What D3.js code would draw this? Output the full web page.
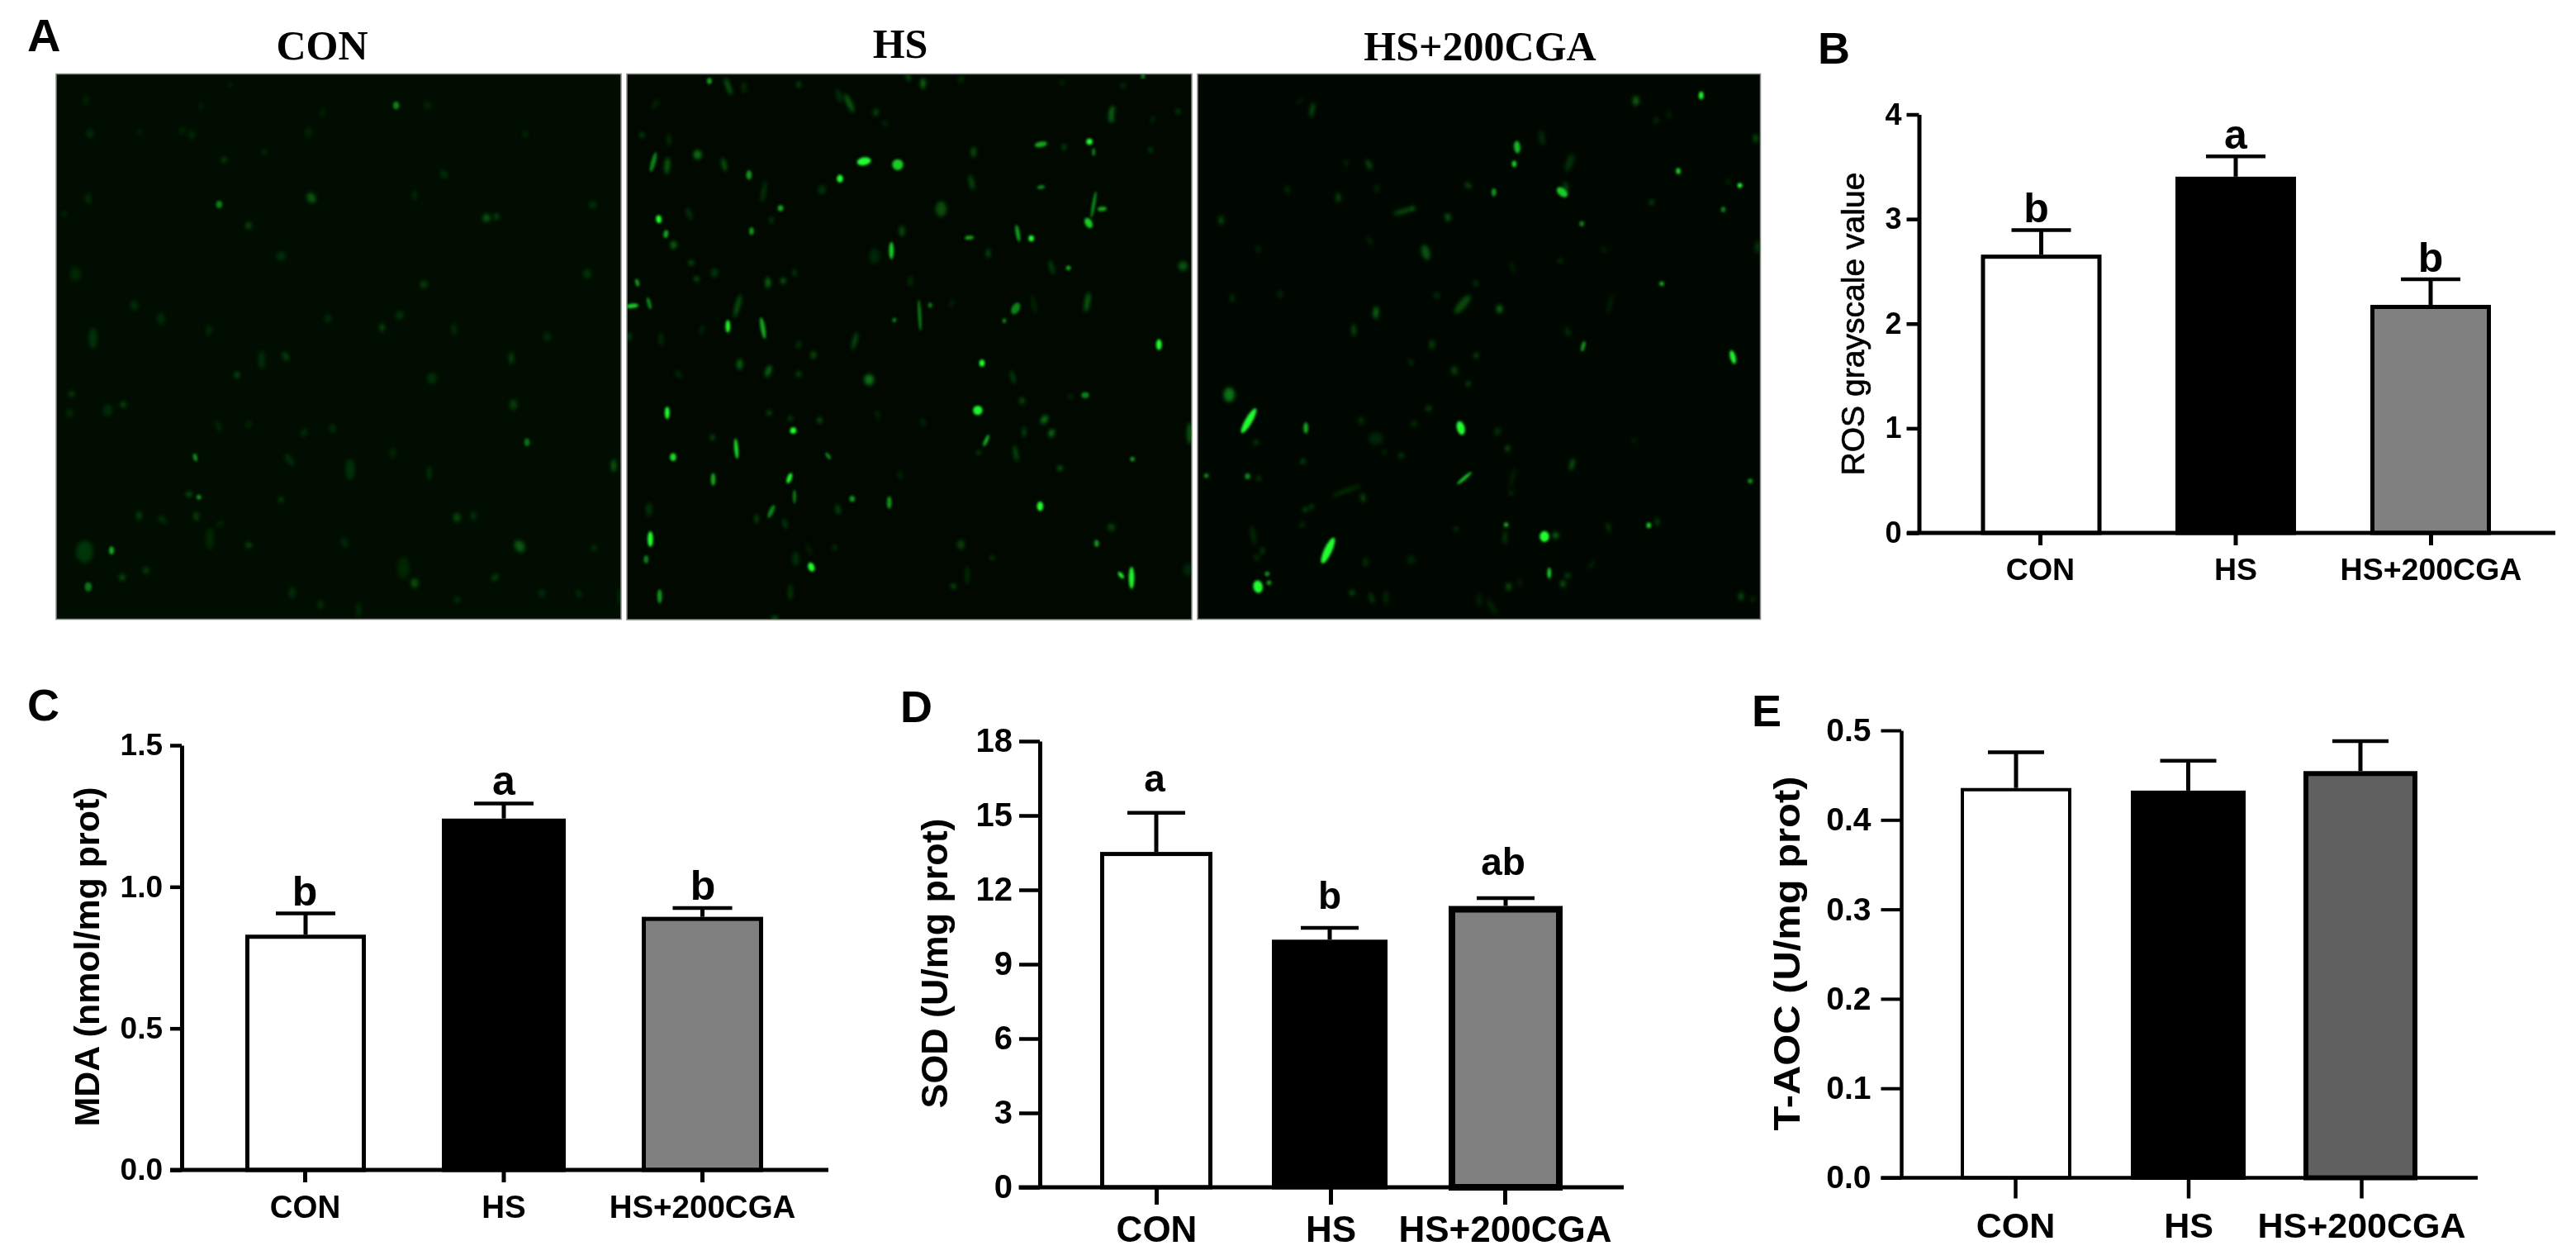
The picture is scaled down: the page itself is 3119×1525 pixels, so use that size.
<!DOCTYPE html>
<html><head><meta charset="utf-8">
<script src="https://cdn.jsdelivr.net/npm/d3@7"></script>
<style>html,body{margin:0;padding:0;background:#fff}svg{display:block}</style>
</head><body><svg id="c" width="3119" height="1525"></svg>
<script>
// ---------- data ----------
const categories = ["CON","HS","HS+200CGA"];
const rosValues = [2.66,3.405,2.18];
const rosErrors = [2.895,3.60,2.424];
const rosLetters = ["b","a","b"];
const rosTicks = [0,1,2,3,4];
const mdaValues = [0.831,1.241,0.894];
const mdaErrors = [0.906,1.294,0.925];
const mdaLetters = ["b","a","b"];
const mdaTicks = [0,0.5,1.0,1.5];
const sodValues = [13.53,9.99,11.35];
const sodErrors = [15.11,10.47,11.67];
const sodLetters = ["a","b","ab"];
const sodTicks = [0,3,6,9,12,15,18];
const aocValues = [0.4356,0.4327,0.4545];
const aocErrors = [0.4756,0.466,0.488];
const aocLetters = ["","",""];
const aocTicks = [0,0.1,0.2,0.3,0.4,0.5];
const micrographTitles = ["CON","HS","HS+200CGA"];
// fluorescent spots: [x, y, half-length, half-width, tilt deg, intensity]
const spotsCon = [[940,110,5,4,0,.55],[460,386,4.5,4,0,.55],[710,368,7,5,-30,.4],[1185,424,5,5,0,.4],[1212,420,4,3,0,.35],[395,1092,5,2.5,-15,.6],[378,1195,4,3,60,.4],[405,1203,3,3,0,.6],[168,1352,5,3,0,.7],[105,1453,6,4.5,0,.5],[1295,1050,5,3.5,0,.5],[1530,1115,8,3,0,.45],[1275,1340,8,6,-30,.4],[990,1443,6,5,0,.35],[1030,1135,9,2,0,.3],[1252,815,8,3,0,.3],[1258,945,7,5,0,.25],[1105,1260,6,5,0,.3],[902,730,5,3,0,.35],[508,862,4,3,0,.4],[540,445,5,4,0,.3],[640,810,6,4,-30,.28],[1037,872,7,6,0,.2],[118,760,13,5,0,.22],[95,1355,14,11,0,.22],[815,1125,13,6,0,.2],[575,820,12,4,0,.2],[1015,610,5,5,0,.25],[1458,580,6,5,0,.22],[1473,388,5,5,0,.2],[628,530,6,6,0,.2],[473,262,4,4,0,.25],[583,240,3,3,0,.22],[200,945,4,4,0,.3],[60,915,4,4,0,.25],[243,1255,6,3.5,0,.28],[305,1265,6,3.5,-40,.22],[398,1257,6,4,0,.25],[628,1210,3,2.5,0,.4],[540,1337,4,4,0,.3],[197,1427,4,4,0,.35],[262,1408,5,4,0,.25],[1208,1427,6,3,40,.3],[1435,1472,5,3,-30,.2],[1335,1472,5,4,0,.2],[658,1470,7,4,0,.2],[735,1503,6,4,0,.2],[838,1518,10,2,0,.25],[1105,1490,4,4,0,.2],[1548,1480,12,2,0,.25],[1477,1345,4,4,0,.2],[1290,190,3,3,0,.22],[1070,302,6,4,-30,.2],[990,360,6,3,0,.18],[1025,110,5,5,0,.12],[230,668,6,5,0,.18],[302,705,8,5,0,.16],[432,737,7,4,0,.16],[1097,735,8,3,0,.18],[950,695,6,5,30,.2],[755,705,5,5,0,.16],[1350,755,6,5,0,.15],[110,188,6,5,0,.15],[385,192,6,4,0,.15],[360,180,5,4,0,.12],[70,580,9,7,0,.14],[158,960,8,6,0,.16],[55,968,5,5,0,.16],[458,1005,8,3,-25,.16],[540,1000,5,4,0,.12],[690,1022,6,4,30,.17],[768,1012,6,4,-30,.17],[650,1098,9,4,-35,.18],[930,1080,7,4,0,.14],[1150,1255,6,4,0,.2],[960,1400,14,8,0,.12],[800,1330,7,4,-20,.15],[435,1320,14,5,0,.14],[462,1277,6,3,60,.14],[40,412,3,3,0,.18],[105,370,7,4,0,.15],[740,130,6,3,0,.1],[702,185,7,4,0,.12],[410,112,4,3,0,.12],[490,50,3,3,0,.12],[100,95,6,4,0,.1],[245,182,3,3,0,.15]];
const spotsHs = [[233,85,4,3,0,.6],[278,100,12,2.5,-20,.4],[315,102,8,2,0,.25],[445,95,4,3,0,.3],[740,92,3,7,90,.45],[705,75,5,2,-20,.4],[830,80,6,2,30,.25],[565,145,13,3,-25,.4],[540,125,9,3,-15,.2],[628,170,5,3,15,.3],[650,200,5,2,-50,.2],[105,148,8,2,30,.2],[73,232,3,3,0,.35],[137,245,8,2,0,.25],[100,305,13,3,15,.5],[133,315,11,3,5,.4],[205,285,6,5,0,.45],[268,312,9,2.5,-15,.4],[327,340,6,3.5,0,.55],[362,385,14,2,10,.3],[543,350,5,4,0,.85],[600,303,9,5,80,.85],[680,312,7,7,0,.7],[500,380,6,5,0,.2],[860,278,7,3,0,.35],[855,360,10,3,-15,.3],[1020,257,8,3.5,80,.6],[1075,265,4,2,0,.4],[1135,250,4,4,0,.85],[1145,278,5,2,0,.5],[1187,180,9,3,0,.45],[1190,160,3,3,0,.4],[1345,167,3,3,0,.3],[1285,190,5,2,0,.2],[1262,72,3,2.5,0,.5],[1215,98,3,3,0,.25],[1070,90,3,3,0,.2],[1280,272,3,2,0,.4],[1020,373,5,2.5,80,.5],[1145,420,17,2,10,.55],[1165,432,6,3,85,.6],[1133,470,7,4.5,-30,.7],[113,460,5,3.5,-10,.9],[130,500,5,3,10,.6],[148,530,5,4,0,.4],[402,430,4,3.5,0,.6],[380,462,4,2,0,.35],[333,492,5,3,0,.55],[185,445,9,3,-20,.2],[783,432,10,7,0,.3],[965,498,11,2.5,-10,.6],[997,512,4,3.5,0,.85],[850,510,6,2.5,85,.6],[690,492,7,3,0,.35],[665,545,11,3,0,.7],[895,552,6,2,0,.4],[190,578,3,3,0,.4],[203,622,3,3,0,.4],[245,605,6,5,0,.2],[372,632,7,3,0,.45],[408,627,4,3,0,.4],[435,605,4,2,0,.35],[1085,592,3,3,0,.6],[1045,590,10,2,-15,.35],[1357,587,6,6,0,.35],[625,560,10,7,0,.12],[62,632,5,2.5,-15,.55],[90,688,8,2.5,-15,.5],[50,695,8,3,85,.7],[710,628,7,2,10,.25],[300,695,15,2.5,15,.4],[277,750,8,3,0,.8],[360,755,14,3,-10,.6],[215,760,7,1.5,20,.25],[732,720,20,2,-3,.5],[757,693,3,2.5,0,.5],[808,687,5,1.5,20,.25],[672,733,3,2.5,0,.5],[960,702,8,5,30,.5],[933,735,3,2.5,0,.5],[1003,690,12,1.5,-10,.25],[1130,685,13,3,10,.4],[578,790,12,2.5,15,.35],[445,800,5,2,20,.3],[480,828,5,3.5,0,.3],[118,785,9,2.5,0,.2],[42,778,5,2,0,.4],[1300,800,7,3.5,0,.85],[880,850,3.5,4.5,90,.85],[305,853,7,3.5,0,.4],[373,872,8,3,20,.45],[445,880,4,4,0,.25],[612,895,7,6,0,.45],[160,880,6,2.5,-50,.2],[953,888,9,2,-15,.35],[1125,937,4,5,0,.5],[1090,940,2.5,2.5,0,.25],[975,952,5,4,0,.25],[133,985,8,3,0,.85],[870,978,6,6,0,.8],[375,985,4,3,0,.3],[1028,1003,6,4,30,.45],[1373,1040,14,3,0,.4],[432,1033,4,4,0,.9],[495,1005,4,3,0,.35],[425,1000,3,3,0,.3],[632,990,6,2,0,.2],[740,1010,6,3,-20,.15],[240,1052,4,3,0,.3],[297,1082,13,2.5,-5,.75],[147,1105,5,4,0,.75],[980,1037,7,2,0,.35],[1045,1040,5,3.5,20,.45],[890,1060,8,2.5,25,.6],[872,1093,2.5,2.5,0,.4],[960,1095,11,2,-10,.4],[515,1102,5,2,-35,.55],[1237,1110,3,3,0,.55],[1065,1135,3,3,0,.45],[242,1165,8,3,0,.6],[423,1162,7,3,20,.8],[685,1153,7,2,-10,.2],[435,1212,9,2,0,.5],[572,1218,4,3.5,0,.55],[660,1228,8,3,0,.55],[538,1247,7,2,-10,.4],[1018,1238,6,4,0,.9],[380,1252,9,3,25,.5],[345,1272,6,2.5,0,.3],[412,1285,7,1.5,-15,.4],[90,1247,9,4,0,.2],[1187,1295,5,5,0,.25],[93,1327,10,3.5,0,.85],[83,1382,5,3,0,.5],[1152,1339,3,4.5,85,.55],[830,1342,6,5,0,.25],[905,1378,3,2.5,0,.3],[475,1403,4,6,70,.85],[438,1380,9,4,0,.2],[470,1355,8,1.5,-20,.2],[1210,1425,5,2.5,-40,.8],[1235,1432,14,3.5,0,.8],[845,1425,12,1.5,0,.3],[812,1455,3,3,0,.4],[115,1482,9,3,0,.55],[425,1472,11,2,0,.3],[1370,1410,8,7,0,.12],[530,1350,4,3,0,.2],[388,1543,4,3,80,.4]];
const spotsCga = [[1377,82,5,3,0,.8],[1200,97,4,6,90,.4],[322,122,10,2.5,10,.35],[290,97,6,1.5,55,.15],[878,226,4,8,85,.65],[870,273,4,3,0,.7],[945,200,10,3,-10,.2],[1020,270,12,4,20,.2],[1000,352,8,5,-50,.7],[1010,340,8,2,-10,.4],[815,352,5,3,0,.55],[745,333,5,3,-50,.3],[1315,293,3,4,85,.7],[1482,333,3,3,0,.95],[1437,400,3.5,3,0,.5],[1450,322,2.5,2.5,0,.25],[1525,202,5,2.5,0,.4],[1243,380,3,3,0,.35],[1053,440,3.5,3,0,.5],[1255,152,4,2.5,0,.2],[1290,135,6,2,0,.15],[476,275,7,3,-25,.3],[415,270,2,4,85,.2],[393,367,6,3,0,.3],[497,342,6,2,0,.2],[570,405,14,2.5,75,.35],[595,397,3,3,0,.35],[690,422,5,3,-15,.4],[75,430,6,3,0,.3],[255,345,5,2,0,.25],[630,520,10,5,-15,.35],[478,488,6,2,-30,.2],[175,512,4,3,0,.15],[995,543,3,2,0,.3],[1112,513,4,1.5,-40,.25],[1270,607,3,3,0,.6],[1530,505,8,3,0,.25],[865,562,8,1.5,-20,.2],[765,606,2,3.5,85,.35],[730,665,15,5,40,.3],[830,678,5,3.5,0,.45],[660,640,3.5,4,0,.2],[495,688,8,3,5,.45],[105,648,3,5,90,.2],[235,637,5,3,0,.15],[1130,665,13,1.5,15,.2],[435,737,8,2.5,-5,.35],[1015,742,3,6,70,.2],[1057,782,7,2.5,15,.55],[1463,812,9,3.5,-15,.8],[647,777,3,6,90,.3],[767,808,3.5,3,0,.3],[590,826,4,1.5,-40,.35],[708,850,4,6,75,.25],[745,887,3,2,0,.45],[97,917,9,7,0,.45],[150,990,18,4.5,30,.85],[305,1010,7,3,0,.6],[725,1010,5,9,75,.9],[638,955,3,3.5,0,.3],[598,998,4,2,30,.3],[455,990,2.5,5,85,.25],[825,1020,5,4,0,.2],[170,1050,3,3,0,.3],[495,1040,8,9,0,.12],[852,1067,4,2.5,0,.4],[1195,1045,3,1.5,50,.3],[297,1103,3,2.5,0,.4],[518,1077,3,1.5,-35,.3],[563,1087,3,3,0,.3],[1027,1112,8,2.5,15,.4],[35,1143,3,3,0,.5],[147,1145,4,3.5,0,.5],[177,1150,3,3,0,.25],[735,1150,12,2,50,.7],[865,1150,14,1.5,15,.18],[862,1192,2.5,2,0,.35],[1510,1158,3,3,0,.55],[415,1185,20,1.5,70,.3],[460,1205,3,6,80,.3],[320,1230,3,2,0,.4],[303,1238,3,2.5,0,.4],[295,1280,4,2,30,.25],[162,1310,12,2,-10,.25],[848,1280,3,3,0,.6],[845,1315,9,2,0,.3],[712,1292,2.5,2.5,0,.3],[952,1313,7,6,0,1],[982,1310,4,4,0,.4],[1235,1282,3.5,3,0,.7],[1258,1272,5,2,0,.35],[1125,1287,6,2,-15,.3],[365,1352,18,5,25,.95],[187,1353,2.5,4,90,.3],[172,1372,4,2.5,0,.25],[200,1417,3,3,0,.55],[205,1442,3,3,0,.55],[175,1453,6,8,80,.85],[467,1385,6,2,0,.3],[965,1415,7,2.5,0,.7],[1015,1422,3,3,0,.35],[1002,1445,3,4,85,.4],[855,1453,5,3,0,.35],[430,1470,3,3,0,.4],[483,1485,7,2,-20,.35],[522,1483,9,1.5,0,.3],[810,1510,12,2,-30,.2],[775,1490,8,3,0,.12],[1485,1480,5,3,0,.35],[1517,1488,2.5,2.5,0,.3],[590,1378,6,5,0,.12],[1080,1392,7,1.5,45,.2],[885,1440,6,2,0,.15]];

// ---------- layout ----------
const svg = d3.select("#c");
const defs = svg.append("defs");
defs.append("filter").attr("id","soft").attr("x","-2%").attr("y","-2%").attr("width","104%").attr("height","104%")
  .append("feGaussianBlur").attr("stdDeviation",0.7);
[["glowBright",1.6],["glowDim",2.4]].forEach(([id,s])=>{
  defs.append("filter").attr("id",id).attr("filterUnits","userSpaceOnUse").attr("x",0).attr("y",0).attr("width",3119).attr("height",800)
    .append("feGaussianBlur").attr("stdDeviation",s);
});

const sans = "'Liberation Sans',Arial,sans-serif", serif = "'Liberation Serif','Times New Roman',serif";

// micrographs
const panels = [
 {spots:spotsCon,x0:68,x1:752,y0:89.5,y1:749.5,bg:"#000d00",gain:0.85,zx:[60,2.24],zy:[80,2.306],title:0,tx:390,ty:72},
 {spots:spotsHs,x0:759,x1:1443,y0:89.5,y1:750,bg:"#000800",gain:1,zx:[740,1.96],zy:[60,2.24],title:1,tx:1090,ty:70},
 {spots:spotsCga,x0:1450,x1:2131.5,y0:89.5,y1:749.5,bg:"#000700",gain:1,zx:[1445,2.24],zy:[80,2.306],title:2,tx:1792,ty:73}
];
panels.forEach((p,i)=>{
  const id="clip"+i;
  defs.append("clipPath").attr("id",id).append("rect").attr("x",p.x0).attr("y",p.y0).attr("width",p.x1-p.x0).attr("height",p.y1-p.y0);
  svg.append("rect").attr("x",p.x0).attr("y",p.y0).attr("width",p.x1-p.x0).attr("height",p.y1-p.y0)
    .attr("fill",p.bg).attr("stroke","#8a8a8a").attr("stroke-width",1.5);
  const sx=d3.scaleLinear().domain([0,1]).range([p.zx[0],p.zx[0]+1/p.zx[1]]);
  const sy=d3.scaleLinear().domain([0,1]).range([p.zy[0],p.zy[0]+1/p.zy[1]]);
  const clip=svg.append("g").attr("clip-path",`url(#${id})`);
  [["glowDim",d=>d[5]<0.5],["glowBright",d=>d[5]>=0.5]].forEach(([f,test])=>{
    clip.append("g").attr("filter",`url(#${f})`)
      .selectAll("ellipse").data(p.spots.filter(test)).join("ellipse")
      .attr("rx",d=>d[3]*0.95).attr("ry",d=>d[2]*0.95)
      .attr("transform",d=>`translate(${sx(d[0])},${sy(d[1])}) rotate(${d[4]})`)
      .attr("fill",d=>d3.interpolateRgb("#0b6a12","#20ff30")(Math.min(1,d[5]*1.25)))
      .attr("opacity",d=>Math.min(1,(d[5]*1.05+0.12)*p.gain));
  });
  svg.append("text").text(micrographTitles[p.title]).attr("x",p.tx).attr("y",p.ty)
    .attr("text-anchor","middle").attr("font-family",serif).attr("font-weight","bold").attr("font-size",50).attr("fill","#000");
});

// bar charts
const charts = [
 {values:rosValues,errors:rosErrors,letters:rosLetters,ticks:rosTicks,fmt:d3.format("d"),max:4,title:"ROS grayscale value",titleWeight:"normal",titleStroke:0.7,
  axisX:2323.5,y0:645,yTop:138.5,xFrom:2309,xTo:3094,ticksX:[2470,2943],barC:[2471.5,2707,2943],barW:[146,146,146],sw:[5,5,5],capH:36,axisW:5,
  tickL:15,xTickL:15,pad:6,tickFont:36,xFont:37.5,labelY:688,titleX:2243,titleY:392,titleLen:367,titleFont:39,
  gray:"#808080",gap:[9,9,9],letterX:[2465.6,2707,2943],letterFont:50},
 {values:mdaValues,errors:mdaErrors,letters:mdaLetters,ticks:mdaTicks,fmt:d3.format(".1f"),max:1.5,title:"MDA (nmol/mg prot)",titleWeight:"bold",titleStroke:0,
  axisX:220,y0:1416,yTop:902,xFrom:206,xTo:1003,ticksX:[369,850],barC:[370,610,850.5],barW:[146,150,147],sw:[5,5,5],capH:36,axisW:5,
  tickL:14,xTickL:15,pad:9,tickFont:37,xFont:38.5,labelY:1460,titleX:105,titleY:1158,titleLen:411,titleFont:43,
  gray:"#808080",gap:[10,11,10],letterX:[369,610,851],letterFont:50},
 {values:sodValues,errors:sodErrors,letters:sodLetters,ticks:sodTicks,fmt:d3.format("d"),max:18,title:"SOD (U/mg prot)",titleWeight:"bold",titleStroke:0,
  axisX:1259,y0:1437,yTop:897,xFrom:1233.5,xTo:1966,ticksX:[1400,1822],barC:[1400,1610,1823],barW:[136,140,138],sw:[5,5,8],capH:35,axisW:5,
  tickL:25,xTickL:21,pad:8,tickFont:40,xFont:44,labelY:1487,titleX:1131,titleY:1166,titleLen:351,titleFont:44,
  gray:"#808080",gap:[26,23,28],letterX:[1398,1610,1820],letterFont:46},
 {values:aocValues,errors:aocErrors,letters:aocLetters,ticks:aocTicks,fmt:d3.format(".1f"),max:0.5,title:"T-AOC (U/mg prot)",titleWeight:"bold",titleStroke:0,
  axisX:2302,y0:1425.5,yTop:884,xFrom:2277.5,xTo:3000,ticksX:[2440,2859],barC:[2441,2649.5,2858],barW:[134,139,138],sw:[4,5,6],capH:34,axisW:4.5,
  tickL:24.5,xTickL:25,pad:12,tickFont:39,xFont:43,labelY:1483,titleX:2163,titleY:1154,titleLen:429,titleFont:44,
  gray:"#606060",gap:[0,0,0],letterX:[2440,2649,2859],letterFont:44}
];
const fills = c => ["#ffffff","#000000",c];
const chartsG = svg.append("g").attr("filter","url(#soft)");
charts.forEach(c=>{
  const g=chartsG.append("g");
  const y=d3.scaleLinear().domain([0,c.max]).range([c.y0,c.yTop]);
  const x=d3.scalePoint().domain(categories).range(c.ticksX);
  const rows=categories.map((k,i)=>({k,i,v:c.values[i],e:c.errors[i],l:c.letters[i]}));
  // error bars
  g.selectAll(".stem").data(rows).join("line").attr("stroke","#000").attr("stroke-width",5)
    .attr("x1",d=>c.barC[d.i]).attr("x2",d=>c.barC[d.i]).attr("y1",d=>y(d.v)).attr("y2",d=>y(d.e));
  g.selectAll(".cap").data(rows).join("line").attr("stroke","#000").attr("stroke-width",4.5)
    .attr("x1",d=>c.barC[d.i]-c.capH).attr("x2",d=>c.barC[d.i]+c.capH).attr("y1",d=>y(d.e)).attr("y2",d=>y(d.e));
  // bars
  g.selectAll("rect").data(rows).join("rect")
    .attr("x",d=>c.barC[d.i]-c.barW[d.i]/2+c.sw[d.i]/2)
    .attr("width",d=>c.barW[d.i]-c.sw[d.i])
    .attr("y",d=>y(d.v)+c.sw[d.i]/2)
    .attr("height",d=>c.y0-y(d.v)-c.sw[d.i]/2)
    .attr("fill",d=>fills(c.gray)[d.i]).attr("stroke","#000").attr("stroke-width",d=>c.sw[d.i]);
  // letters
  g.selectAll(".sig").data(rows).join("text").text(d=>d.l)
    .attr("x",d=>c.letterX[d.i]).attr("y",d=>y(d.e)-c.gap[d.i]).attr("text-anchor","middle")
    .attr("font-family",sans).attr("font-weight","bold").attr("font-size",c.letterFont).attr("fill","#000");
  // y axis
  const ya=g.append("g").attr("transform",`translate(${c.axisX},0)`)
    .call(d3.axisLeft(y).tickValues(c.ticks).tickFormat(c.fmt).tickSize(c.tickL).tickSizeOuter(0).tickPadding(c.pad));
  ya.select(".domain").attr("stroke","#000").attr("stroke-width",c.axisW);
  ya.selectAll(".tick line").attr("stroke","#000").attr("stroke-width",c.axisW-0.5);
  ya.selectAll("text").attr("font-family",sans).attr("font-weight","bold").attr("font-size",c.tickFont).attr("fill","#000");
  // x axis
  const xa=g.append("g").attr("transform",`translate(0,${c.y0})`)
    .call(d3.axisBottom(x).tickSize(c.xTickL).tickSizeOuter(0));
  xa.select(".domain").remove();
  xa.selectAll(".tick line").attr("stroke","#000").attr("stroke-width",c.axisW);
  xa.selectAll("text").attr("font-family",sans).attr("font-weight","bold").attr("font-size",c.xFont).attr("fill","#000")
    .attr("y",c.labelY-c.y0).attr("dy",".36em");
  xa.append("line").attr("x1",c.xFrom).attr("x2",c.xTo).attr("y1",0).attr("y2",0).attr("stroke","#000").attr("stroke-width",c.axisW);
  // title
  g.append("text").text(c.title)
    .attr("transform",`translate(${c.titleX},${c.titleY}) rotate(-90)`).attr("text-anchor","middle").attr("dy",".36em")
    .attr("textLength",c.titleLen).attr("lengthAdjust","spacingAndGlyphs")
    .attr("font-family",sans).attr("font-weight",c.titleWeight).attr("font-size",c.titleFont).attr("fill","#000")
    .attr("stroke","#000").attr("stroke-width",c.titleStroke);
});

// panel letters
const panelLetters = [["A",33,62,56],["B",2201,77,54],["C",33,872,54],["D",1090,874,54],["E",2121,879,54]];
chartsG.selectAll(".pl").data(panelLetters).join("text").text(d=>d[0])
  .attr("x",d=>d[1]).attr("y",d=>d[2]).attr("font-size",d=>d[3])
  .attr("font-family",sans).attr("font-weight","bold").attr("fill","#000");
</script></body></html>
